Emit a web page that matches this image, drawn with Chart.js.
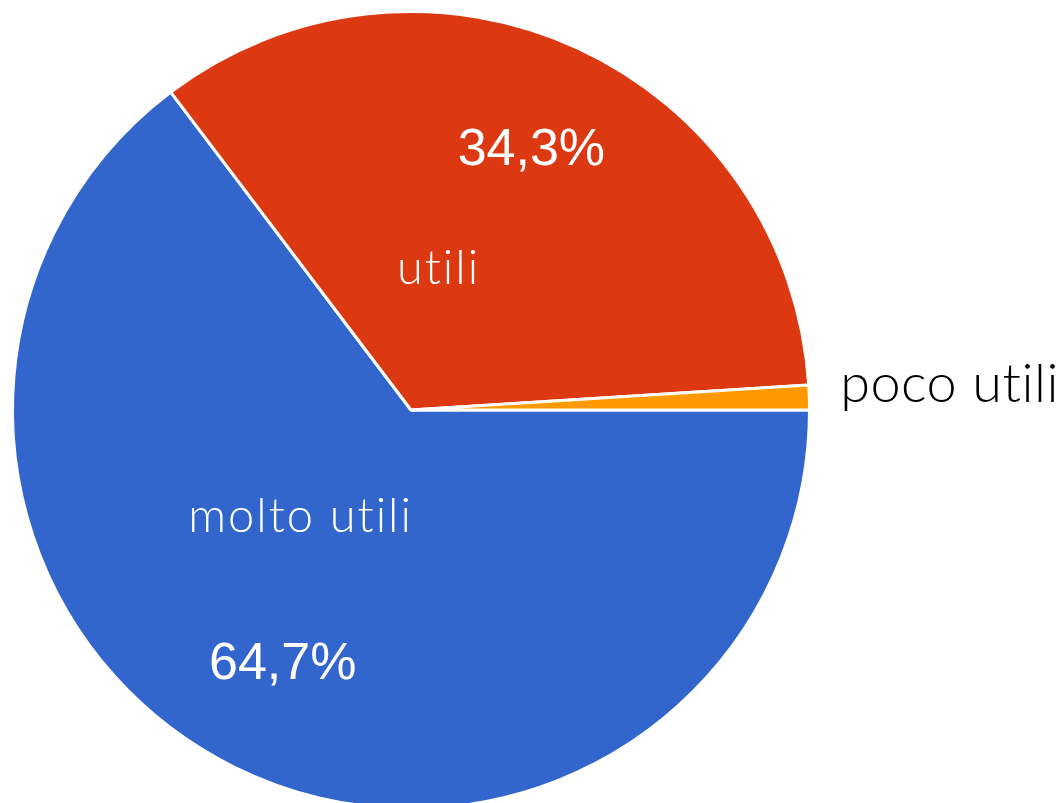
<!DOCTYPE html>
<html>
<head>
<meta charset="utf-8">
<script src="https://cdn.jsdelivr.net/npm/chart.js@4/dist/chart.umd.min.js"></script>
<style>
	html, body { margin: 0; padding: 0; background: #fff; overflow: hidden; }
	#wrap { position: relative; width: 1060px; height: 810px; }
</style>
</head>
<body>
<div id="wrap"><canvas id="pie-chart"></canvas></div>
<script>
	/* Pie: how useful the answers were */
	const categories = ['molto utili', 'utili', 'poco utili'];
	const values = [64.7, 34.3, 1.0];
	const show_pct = [true, true, false];
	const colors = ['#3366cc', '#dc3912', '#ff9900'];

	// label placement, as fractions of the pie radius from its centre
	const name_pos = [[-0.277, 0.307, 'center'], [0.069, -0.315, 'center'], [1.077, -0.020, 'left']];
	const pct_pos = [[-0.322, 0.640], [0.302, -0.650], null];

	function fmt_pct(v) {
		return v.toFixed(1).replace('.', ',') + '%';
	}

	const labels_plugin = {
		id: 'pie_labels',
		afterDraw(chart) {
			let ctx = chart.ctx;
			let arcs = chart.getDatasetMeta(0).data;
			ctx.save();
			arcs.forEach((arc, i) => {
				let p = arc.getProps(['x', 'y', 'outerRadius'], true);
				let r = p.outerRadius;
				let np = name_pos[i];
				let inside = np[2] === 'center';
				ctx.font = inside ? '300 47px Lato' : '300 54px Lato';
				ctx.letterSpacing = inside ? '2px' : '0.5px';
				ctx.fillStyle = inside ? '#ffffff' : '#000000';
				ctx.textAlign = np[2];
				ctx.textBaseline = 'alphabetic';
				ctx.fillText(categories[i], p.x + np[0] * r, p.y + np[1] * r);

				if (show_pct[i]) {
					let pp = pct_pos[i];
					ctx.letterSpacing = '0px';
					ctx.font = '400 52px "Liberation Sans", Arial';
					ctx.fillStyle = '#ffffff';
					ctx.textAlign = 'center';
					ctx.textBaseline = 'middle';
					ctx.fillText(fmt_pct(values[i]), p.x + pp[0] * r, p.y + pp[1] * r);
				}
			});
			ctx.restore();
		}
	};

	let ctx = document.getElementById('pie-chart').getContext('2d');
	let pie_chart = new Chart(ctx, {
		type: 'pie',
		data: {
			labels: categories,
			datasets: [{
				data: values,
				backgroundColor: colors,
				borderColor: '#ffffff',
				borderWidth: 3
			}]
		},
		options: {
			responsive: true,
			maintainAspectRatio: false,
			animation: false,
			rotation: 90,
			layout: { padding: { left: 11, right: 249, top: 10, bottom: 0 } },
			plugins: {
				legend: { display: false },
				tooltip: { enabled: false }
			}
		},
		plugins: [labels_plugin]
	});
</script>
</body>
</html>
